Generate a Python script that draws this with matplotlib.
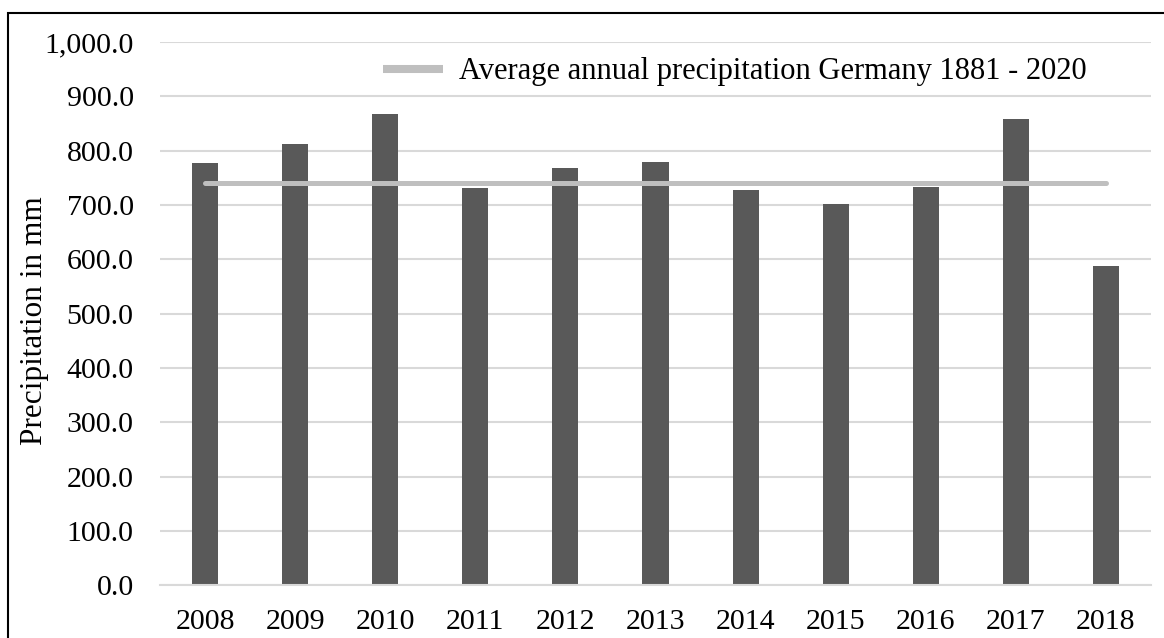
import matplotlib.pyplot as plt
from matplotlib.lines import Line2D
from matplotlib.patches import Rectangle
from matplotlib.ticker import FuncFormatter

plt.rcParams['font.family'] = ['Liberation Serif', 'DejaVu Serif']

# annual precipitation in Germany (mm)
years = ['2008', '2009', '2010', '2011', '2012', '2013', '2014', '2015', '2016', '2017', '2018']
precipitation = [778, 812, 868, 732, 768, 779, 727, 701, 733, 859, 587]
long_term_avg = 740
avg_label = 'Average annual precipitation Germany 1881 - 2020'

fig = plt.figure(figsize=(11.64, 6.38), dpi=100)
ax = fig.add_axes([0.1375, 0.0823, 0.8513, 0.8519])

x = list(range(len(years)))
ax.bar(x, precipitation, width=0.29, color='#595959', zorder=2)
ax.plot([x[0], x[-1]], [long_term_avg] * 2, color='#BFBFBF', lw=3.6,
        solid_capstyle='round', zorder=3)

ax.set_xlim(-0.5, len(years) - 0.5)
ax.set_ylim(0, 1000)
ax.set_yticks(range(0, 1001, 100))
ax.yaxis.set_major_formatter(FuncFormatter(lambda v, p: f'{v:,.1f}'))
ax.set_xticks(x)
ax.set_xticklabels(years)
ax.tick_params(axis='both', length=0, labelsize=21.5)
ax.tick_params(axis='y', pad=19)
ax.tick_params(axis='x', pad=17)

ax.grid(axis='y', color='#D9D9D9', lw=1.5, zorder=0)
for side in ['top', 'right', 'left']:
    ax.spines[side].set_visible(False)
ax.spines['bottom'].set_color('#D9D9D9')
ax.spines['bottom'].set_linewidth(1.5)

ax.set_ylabel('Precipitation in mm', fontsize=22.5)
ax.yaxis.set_label_coords(-0.112, 0.488)

# legend handle is drawn a bit thicker than the line itself
handle = Line2D([], [], color='#BFBFBF', lw=5.8, solid_capstyle='butt')
ax.legend([handle], [avg_label], loc='center left',
          bbox_to_anchor=(383 / 1164, 1 - 72 / 638),
          bbox_transform=fig.transFigure, frameon=False, fontsize=22,
          handlelength=1.95, handletextpad=0.55, borderpad=0, borderaxespad=0)

# outer frame
fig.patches.append(Rectangle((8 / 1164, -0.05), 1.1, 1 - 13 / 638 + 0.05,
                             transform=fig.transFigure, fill=False,
                             edgecolor='black', lw=1.5))

plt.savefig('out.png', dpi=100)
